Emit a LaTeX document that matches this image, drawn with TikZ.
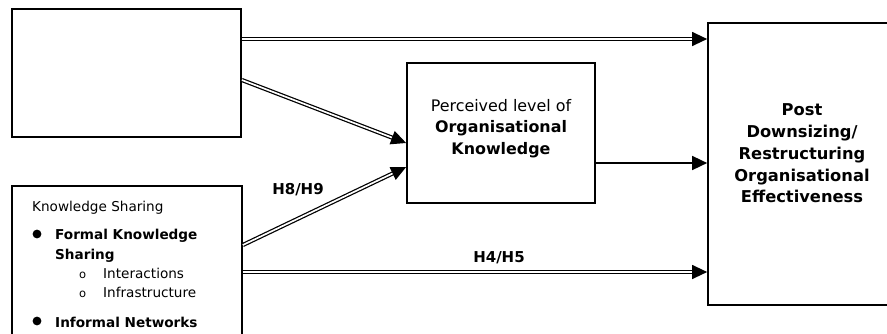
\documentclass[tikz,border=0pt]{standalone}
\usepackage{fontspec}
\setmainfont{DejaVu Sans}
\usetikzlibrary{arrows.meta}
\begin{document}
\begin{tikzpicture}[x=1pt,y=-1pt,
  box/.style={draw=black,line width=1.7pt,fill=white,inner sep=0pt},
  dbl/.style={draw=black,line width=1.25pt,double=white,double distance=1.7pt,
    -{Triangle[length=15pt,width=14pt]}},
  sgl/.style={draw=black,line width=1.6pt,-{Triangle[length=15pt,width=14pt]}},
  hyp/.style={font=\fontsize{15}{17}\selectfont\bfseries},
  small/.style={font=\fontsize{13.6}{16}\selectfont,inner sep=0pt},
  smallb/.style={font=\fontsize{13.6}{16}\selectfont\bfseries,inner sep=0pt}]
\useasboundingbox (0,0) rectangle (887,333);
\fill[white] (0,0) rectangle (887,333);

% boxes
\node[box,minimum width=229pt,minimum height=128pt] (tl) at (126.5,73) {};
\node[box,minimum width=230pt,minimum height=162pt] (bl) at (127,267) {};
\node[box,minimum width=188pt,minimum height=140pt] (mid) at (501,133) {};
\node[box,minimum width=188pt,minimum height=282pt] (rt) at (802,164) {};

% box texts
\node[align=center,font=\fontsize{15.9}{21.5}\selectfont] (midtxt) at (501,128.5)
  {Perceived level of\\\textbf{Organisational}\\\textbf{Knowledge}};
\node[align=center,font=\fontsize{16.3}{21.7}\selectfont\bfseries] (rttxt) at (802,153.5)
  {Post\\Downsizing/\\Restructuring\\Organisational\\Effectiveness};

\node[small,anchor=base west] (ks) at (32,211) {Knowledge Sharing};
\fill (37,234) circle (4.4pt);
\node[smallb,anchor=base west] (fk1) at (55,239) {Formal Knowledge};
\node[smallb,anchor=base west] (fk2) at (55,259) {Sharing};
\node[small,anchor=base west,font=\fontsize{11.5}{13}\selectfont] (o1) at (79,278) {o};
\node[small,anchor=base west] (it) at (103,278) {Interactions};
\node[small,anchor=base west,font=\fontsize{11.5}{13}\selectfont] (o2) at (79,297) {o};
\node[small,anchor=base west] (inf) at (103,297) {Infrastructure};
\fill (37,321) circle (4.4pt);
\node[smallb,anchor=base west] (inw) at (55,327) {Informal Networks};

% connectors
\draw[dbl] (tl.east |- 0,39) -- (rt.west |- 0,39);
\draw[dbl] (tl.east |- 0,80) -- (mid.west |- 0,143);
\draw[dbl] (bl.east |- 0,245) -- (mid.west |- 0,167);
\draw[dbl] (bl.east |- 0,272) -- (rt.west |- 0,272);
\draw[sgl] (mid.east |- 0,163) -- (rt.west |- 0,163);

% hypothesis labels
\node[hyp] (h89) at (298,190) {H8/H9};
\node[hyp] (h45) at (499,258) {H4/H5};
\end{tikzpicture}
\end{document}
